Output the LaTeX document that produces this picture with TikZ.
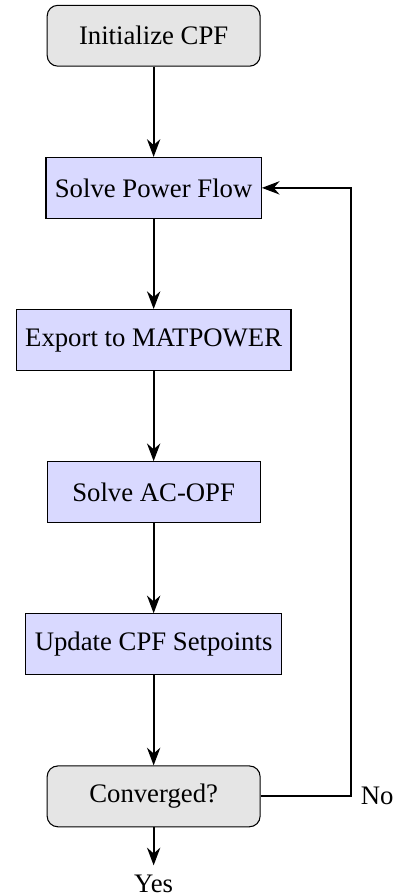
\documentclass[tikz,border=0pt]{standalone}
\usepackage{fontspec}
\setmainfont{Liberation Serif}
\usepackage{tikz}
\usetikzlibrary{arrows.meta, positioning}
\definecolor{termgray}{gray}{0.9}
\definecolor{procblue}{RGB}{217, 217, 255}

\begin{document}
\begin{tikzpicture}[
    terminal/.style={draw, fill=termgray, rounded corners=4pt, minimum width=2.8cm, minimum height=0.8cm},
    process/.style={draw, fill=procblue, minimum width=2.8cm, minimum height=0.8cm},
    flow/.style={thick, -Stealth}
]
    \useasboundingbox (-2.02,0.47) rectangle (3.15,-11.31);

    % Main sequence
    \node[terminal] (init) at (0, 0) {Initialize CPF};
    \node[process] (solvepf) at (0, -2) {Solve Power Flow};
    \node[process] (export) at (0, -4) {Export to MATPOWER};
    \node[process] (solveopf) at (0, -6) {Solve AC-OPF};
    \node[process] (update) at (0, -8) {Update CPF Setpoints};
    \node[terminal] (conv) at (0, -10) {Converged?};

    % Exit labels
    \node[right] (no) at (2.6, -10) {No};
    \node[below=0.5cm of conv] (yes) {Yes};

    % Arrows
    \draw[flow] (init) -- (solvepf);
    \draw[flow] (solvepf) -- (export);
    \draw[flow] (export) -- (solveopf);
    \draw[flow] (solveopf) -- (update);
    \draw[flow] (update) -- (conv);
    \draw[flow] (conv.east) -- (no.west) |- (solvepf.east);
    \draw[flow] (conv) -- (yes);
\end{tikzpicture}
\end{document}
